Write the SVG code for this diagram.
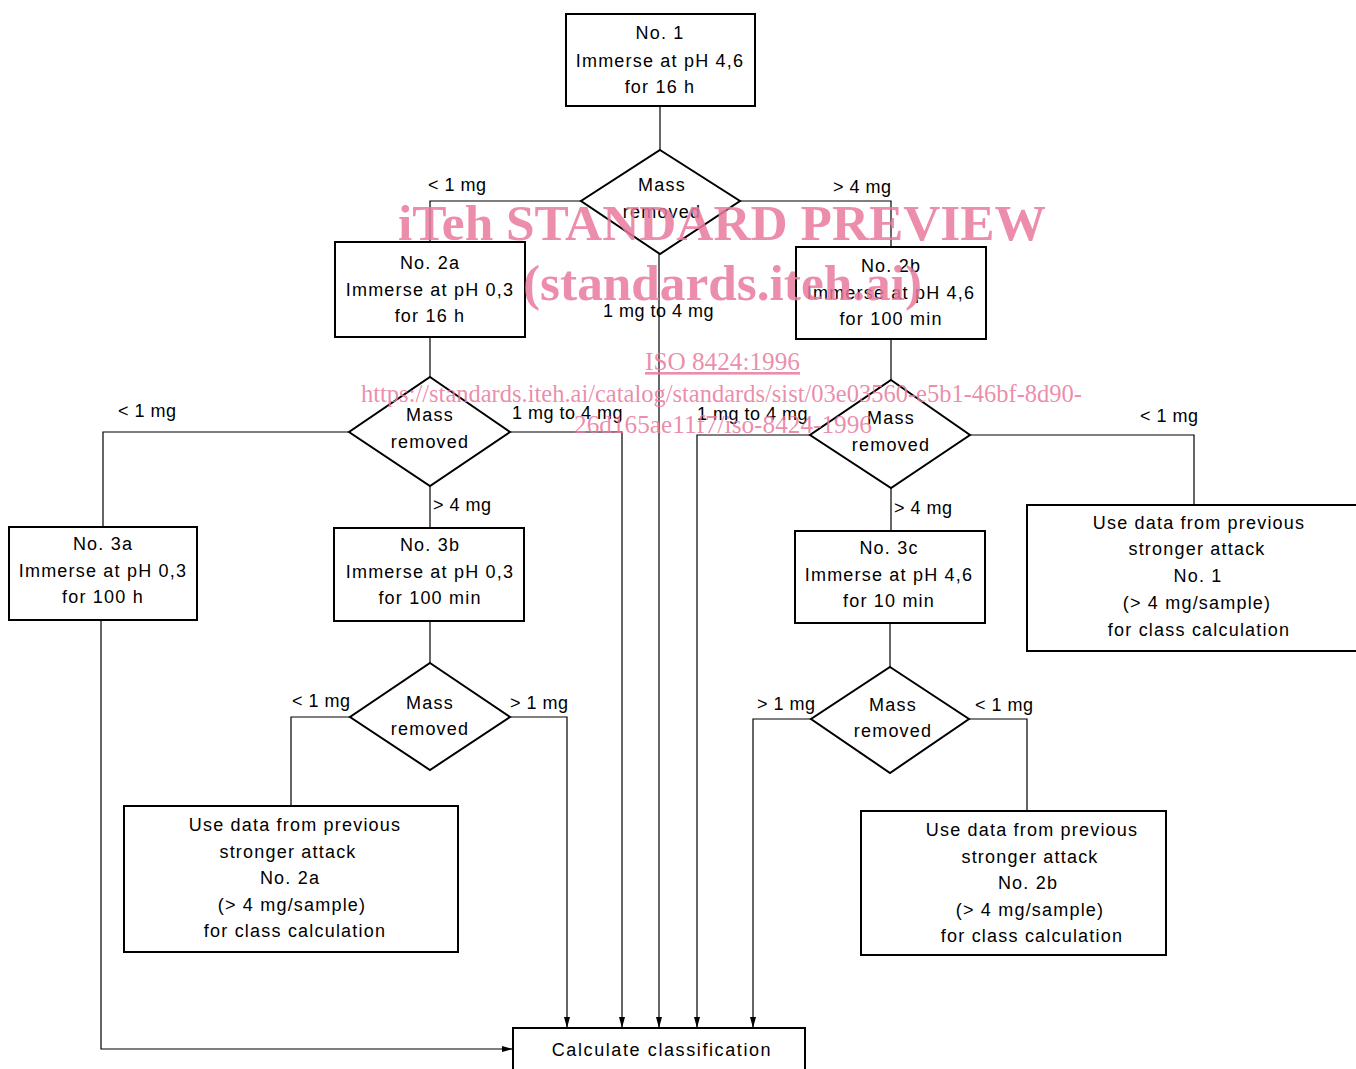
<svg xmlns="http://www.w3.org/2000/svg" width="1356" height="1069" viewBox="0 0 1356 1069">
<style>
.box{fill:#fff;stroke:#000;stroke-width:2}
.dia{fill:#fff;stroke:#000;stroke-width:2}
.t{font-family:"Liberation Sans",Arial,sans-serif;font-size:18px;fill:#000;text-anchor:middle;letter-spacing:1.2px}
.lb{font-family:"Liberation Sans",Arial,sans-serif;font-size:18px;fill:#000;letter-spacing:0.5px}
.c{fill:none;stroke:#000;stroke-width:1.2}
.wm{font-family:"Liberation Serif","Times New Roman",serif;fill:#e8799c;fill-opacity:0.85}
</style>
<defs>
<marker id="ah" markerWidth="12" markerHeight="8" refX="11" refY="4" orient="auto" markerUnits="userSpaceOnUse">
<path d="M0,1 L11,4 L0,7 z" fill="#000"/>
</marker>
</defs>
<rect width="1356" height="1069" fill="#fff"/>
<g id="connectors">
<path class="c" d="M660,106 V150"/>
<path class="c" d="M581,201 H430 V242"/>
<path class="c" d="M740,201 H891 V247"/>
<path class="c" d="M659,254 V1028" marker-end="url(#ah)"/>
<path class="c" d="M430,337 V377"/>
<path class="c" d="M349,432 H103 V527"/>
<path class="c" d="M510,432 H622 V1028" marker-end="url(#ah)"/>
<path class="c" d="M430,486 V528"/>
<path class="c" d="M101,620 V1049 H513" marker-end="url(#ah)"/>
<path class="c" d="M430,621 V663"/>
<path class="c" d="M350,717 H291 V806"/>
<path class="c" d="M510,717 H567 V1028" marker-end="url(#ah)"/>
<path class="c" d="M891,339 V380"/>
<path class="c" d="M810,435 H697 V1028" marker-end="url(#ah)"/>
<path class="c" d="M970,435 H1194 V505"/>
<path class="c" d="M891,488 V531"/>
<path class="c" d="M890,623 V667"/>
<path class="c" d="M811,719 H753 V1028" marker-end="url(#ah)"/>
<path class="c" d="M969,719 H1027 V811"/>
<text class="lb" x="428" y="191">&lt; 1 mg</text>
<text class="lb" x="833" y="193">&gt; 4 mg</text>
<text class="lb" x="603" y="317">1 mg to 4 mg</text>
<text class="lb" x="118" y="417">&lt; 1 mg</text>
<text class="lb" x="512" y="419">1 mg to 4 mg</text>
<text class="lb" x="433" y="511">&gt; 4 mg</text>
<text class="lb" x="292" y="707">&lt; 1 mg</text>
<text class="lb" x="510" y="709">&gt; 1 mg</text>
<text class="lb" x="697" y="420">1 mg to 4 mg</text>
<text class="lb" x="1140" y="422">&lt; 1 mg</text>
<text class="lb" x="894" y="514">&gt; 4 mg</text>
<text class="lb" x="757" y="710">&gt; 1 mg</text>
<text class="lb" x="975" y="711">&lt; 1 mg</text>
</g>
<g id="n1">
<rect class="box" x="566" y="14" width="189" height="92"/>
<text class="t" x="660" y="39">No. 1</text>
<text class="t" x="660" y="67">Immerse at pH 4,6</text>
<text class="t" x="660" y="93">for 16 h</text>
</g>
<g id="d1">
<polygon class="dia" points="660,150 740,201 660,254 581,201"/>
<text class="t" x="662" y="191">Mass</text>
<text class="t" x="662" y="218">removed</text>
</g>
<g id="n2a">
<rect class="box" x="335" y="242" width="190" height="95"/>
<text class="t" x="430" y="269">No. 2a</text>
<text class="t" x="430" y="296">Immerse at pH 0,3</text>
<text class="t" x="430" y="322">for 16 h</text>
</g>
<g id="n2b">
<rect class="box" x="796" y="247" width="190" height="92"/>
<text class="t" x="891" y="272">No. 2b</text>
<text class="t" x="891" y="299">Immerse at pH 4,6</text>
<text class="t" x="891" y="325">for 100 min</text>
</g>
<g id="d2">
<polygon class="dia" points="430,377 510,432 430,486 349,432"/>
<text class="t" x="430" y="421">Mass</text>
<text class="t" x="430" y="448">removed</text>
</g>
<g id="d4">
<polygon class="dia" points="891,380 970,435 891,488 810,435"/>
<text class="t" x="891" y="424">Mass</text>
<text class="t" x="891" y="451">removed</text>
</g>
<g id="n3a">
<rect class="box" x="9" y="527" width="188" height="93"/>
<text class="t" x="103" y="550">No. 3a</text>
<text class="t" x="103" y="577">Immerse at pH 0,3</text>
<text class="t" x="103" y="603">for 100 h</text>
</g>
<g id="n3b">
<rect class="box" x="334" y="528" width="190" height="93"/>
<text class="t" x="430" y="551">No. 3b</text>
<text class="t" x="430" y="578">Immerse at pH 0,3</text>
<text class="t" x="430" y="604">for 100 min</text>
</g>
<g id="n3c">
<rect class="box" x="795" y="531" width="190" height="92"/>
<text class="t" x="889" y="554">No. 3c</text>
<text class="t" x="889" y="581">Immerse at pH 4,6</text>
<text class="t" x="889" y="607">for 10 min</text>
</g>
<g id="u1">
<rect class="box" x="1027" y="505" width="340" height="146"/>
<text class="t" x="1199" y="529">Use data from previous</text>
<text class="t" x="1197" y="555">stronger attack</text>
<text class="t" x="1198" y="582">No. 1</text>
<text class="t" x="1197" y="609">(&gt; 4 mg/sample)</text>
<text class="t" x="1199" y="636">for class calculation</text>
</g>
<g id="d3">
<polygon class="dia" points="430,663 510,717 430,770 350,717"/>
<text class="t" x="430" y="709">Mass</text>
<text class="t" x="430" y="735">removed</text>
</g>
<g id="d5">
<polygon class="dia" points="890,667 969,719 890,773 811,719"/>
<text class="t" x="893" y="711">Mass</text>
<text class="t" x="893" y="737">removed</text>
</g>
<g id="u2a">
<rect class="box" x="124" y="806" width="334" height="146"/>
<text class="t" x="295" y="831">Use data from previous</text>
<text class="t" x="288" y="858">stronger attack</text>
<text class="t" x="290" y="884">No. 2a</text>
<text class="t" x="292" y="911">(&gt; 4 mg/sample)</text>
<text class="t" x="295" y="937">for class calculation</text>
</g>
<g id="u2b">
<rect class="box" x="861" y="811" width="305" height="144"/>
<text class="t" x="1032" y="836">Use data from previous</text>
<text class="t" x="1030" y="863">stronger attack</text>
<text class="t" x="1028" y="889">No. 2b</text>
<text class="t" x="1030" y="916">(&gt; 4 mg/sample)</text>
<text class="t" x="1032" y="942">for class calculation</text>
</g>
<g id="calc">
<rect class="box" x="513" y="1028" width="292" height="50"/>
<text class="t" x="662" y="1056" style="letter-spacing:1.6px">Calculate classification</text>
</g>
<g id="watermark">
<text class="wm" x="398" y="240" font-size="50" font-weight="bold" textLength="648" lengthAdjust="spacingAndGlyphs">iTeh STANDARD PREVIEW</text>
<text class="wm" x="523" y="300" font-size="50" font-weight="bold" textLength="399" lengthAdjust="spacingAndGlyphs">(standards.iteh.ai)</text>
<text class="wm" x="645" y="370" font-size="26" textLength="155" lengthAdjust="spacingAndGlyphs" text-decoration="underline">ISO 8424:1996</text>
<text class="wm" x="361" y="402" font-size="26" textLength="721" lengthAdjust="spacingAndGlyphs">https://standards.iteh.ai/catalog/standards/sist/03e03560-e5b1-46bf-8d90-</text>
<text class="wm" x="574" y="433" font-size="26" textLength="298" lengthAdjust="spacingAndGlyphs">26d165ae11f7/iso-8424-1996</text>
</g>
</svg>
